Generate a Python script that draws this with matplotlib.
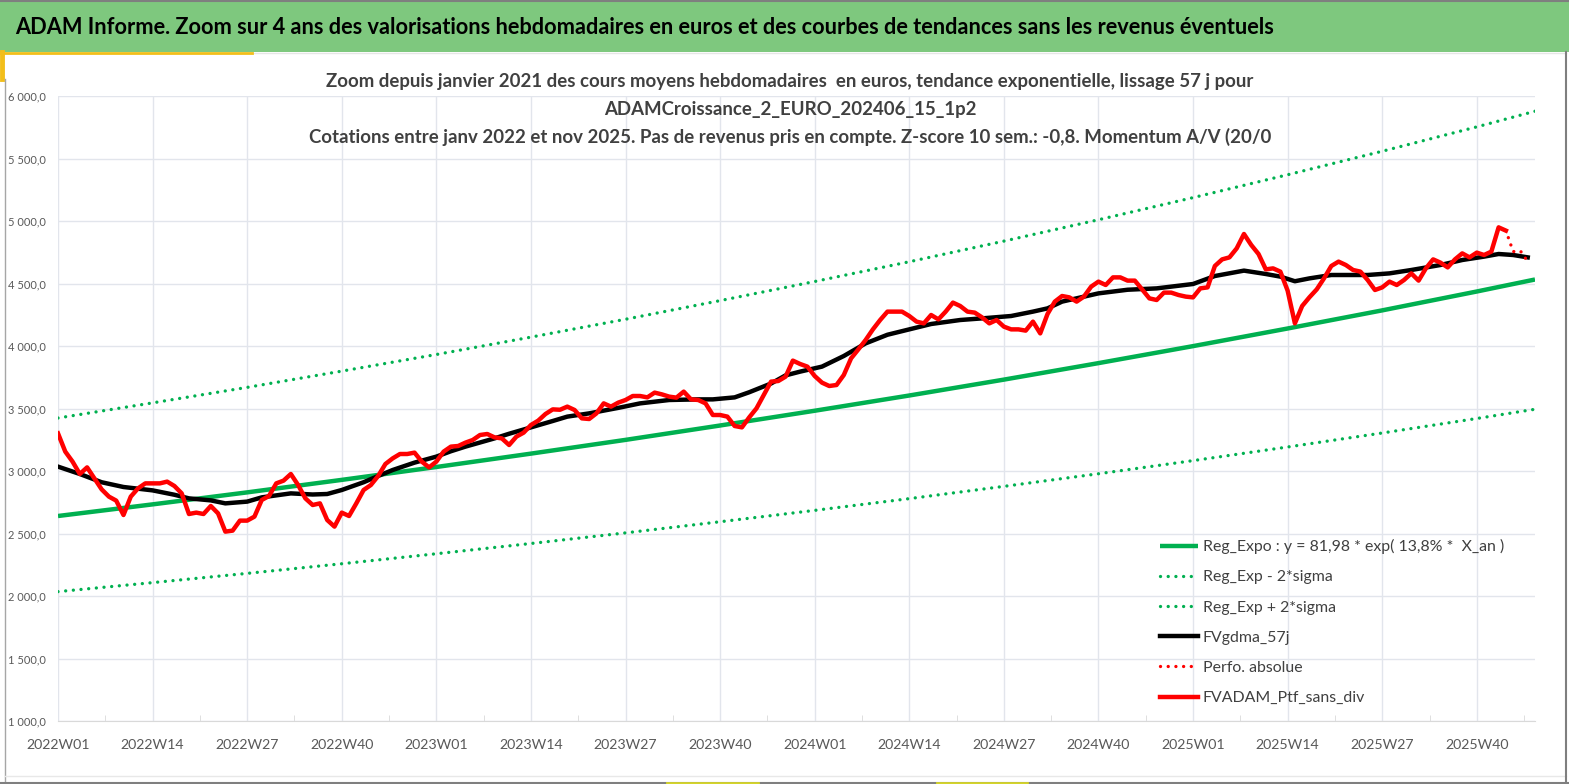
import numpy as np
import matplotlib
matplotlib.use("Agg")
import matplotlib.pyplot as plt
from matplotlib.patches import Rectangle
from matplotlib.lines import Line2D
from matplotlib.ticker import FuncFormatter, MultipleLocator

plt.rcParams['font.family'] = ['Lato', 'DejaVu Sans']

# ---- data ----
tick_weeks = [0, 13, 26, 39, 52, 65, 78, 91, 104, 117, 130, 143, 156, 169, 182, 195]
tick_labels = ['2022W01', '2022W14', '2022W27', '2022W40', '2023W01', '2023W14',
               '2023W27', '2023W40', '2024W01', '2024W14', '2024W27', '2024W40',
               '2025W01', '2025W14', '2025W27', '2025W40']

# regression line and bands, read at each tick + last week
reg_weeks = [0, 13, 26, 39, 52, 65, 78, 91, 104, 117, 130, 143, 156, 169, 182, 195, 203]
reg_expo = [2640, 2733, 2829, 2929, 3032, 3139, 3249, 3364, 3482, 3604, 3731, 3863,
            3999, 4140, 4285, 4436, 4532]
reg_plus = [3424, 3545, 3669, 3799, 3932, 4071, 4214, 4363, 4516, 4674, 4839, 5010,
            5187, 5370, 5558, 5753, 5878]
reg_minus = [2035, 2107, 2181, 2258, 2338, 2420, 2505, 2594, 2685, 2779, 2877, 2978,
             3083, 3192, 3304, 3420, 3494]

# moving average FVgdma_57j
ma_weeks = [0, 3, 6, 9, 13, 16, 18, 21, 23, 26, 28, 32, 35, 37, 39, 42, 44, 46, 49,
            52, 54, 56, 60, 62, 65, 68, 70, 73, 77, 80, 84, 88, 90, 93, 95, 98, 100,
            102, 105, 108, 111, 114, 117, 120, 124, 127, 131, 134, 136, 138, 143, 147,
            151, 156, 159, 163, 166, 168, 170, 172, 175, 180, 183, 186, 190, 193, 196,
            198, 200, 202]
ma_57j = [3035, 2976, 2910, 2872, 2845, 2810, 2781, 2765, 2741, 2755, 2789, 2821, 2812,
          2816, 2848, 2910, 2960, 3008, 3067, 3115, 3158, 3195, 3261, 3298, 3349, 3400,
          3435, 3461, 3505, 3541, 3568, 3573, 3573, 3589, 3630, 3700, 3765, 3795, 3835,
          3920, 4021, 4090, 4133, 4176, 4208, 4221, 4240, 4275, 4301, 4355, 4421, 4450,
          4461, 4496, 4560, 4603, 4576, 4555, 4518, 4541, 4568, 4568, 4581, 4608, 4648,
          4688, 4715, 4736, 4728, 4709]

# weekly portfolio value, weeks 0..199
ptf_sans_div = [
    3301, 3155, 3075, 2976, 3029, 2941, 2853, 2795, 2763, 2648,
    2795, 2861, 2901, 2901, 2901, 2915, 2880, 2821, 2656, 2667,
    2656, 2720, 2661, 2515, 2523, 2603, 2603, 2635, 2768, 2800,
    2901, 2923, 2976, 2888, 2781, 2728, 2741, 2608, 2555, 2667,
    2640, 2741, 2848, 2888, 2960, 3056, 3101, 3136, 3136, 3147,
    3075, 3029, 3075, 3155, 3195, 3200, 3227, 3248, 3288, 3296,
    3269, 3261, 3208, 3275, 3307, 3368, 3403, 3456, 3493, 3490,
    3515, 3488, 3421, 3416, 3461, 3541, 3515, 3547, 3568, 3600,
    3600, 3589, 3627, 3613, 3595, 3587, 3635, 3573, 3568, 3541,
    3448, 3448, 3435, 3360, 3349, 3429, 3501, 3608, 3715, 3720,
    3755, 3883, 3856, 3835, 3760, 3707, 3680, 3688, 3768, 3901,
    3973, 4048, 4133, 4208, 4275, 4275, 4275, 4240, 4195, 4181,
    4248, 4213, 4275, 4347, 4320, 4275, 4267, 4229, 4181, 4208,
    4155, 4133, 4133, 4123, 4195, 4101, 4256, 4355, 4400, 4389,
    4355, 4395, 4475, 4515, 4488, 4549, 4549, 4523, 4523, 4453,
    4381, 4368, 4427, 4427, 4408, 4395, 4389, 4461, 4469, 4640,
    4693, 4709, 4781, 4896, 4808, 4736, 4613, 4621, 4595, 4443,
    4181, 4320, 4390, 4453, 4541, 4640, 4675, 4648, 4608, 4595,
    4528, 4448, 4469, 4515, 4488, 4528, 4581, 4523, 4621, 4693,
    4667, 4629, 4693, 4741, 4709, 4747, 4728, 4755, 4949, 4923,
]
# absolute performance continues a few weeks after the last portfolio point
perfo_weeks = [198, 199, 200, 201, 202]
perfo_abs = [4949, 4923, 4755, 4760, 4675]

GREEN = '#00b050'
RED = '#ff0000'
GREY_TXT = '#595959'

W, H = 1569, 784
fig = plt.figure(figsize=(W / 100, H / 100), dpi=100)


def fx(px):
    return px / W


def fy(py):
    return 1 - py / H


# title bar
fig.add_artist(Rectangle((0, fy(52)), 1, 52 / H, transform=fig.transFigure,
                         facecolor='#7ec87e', edgecolor='none', zorder=0))
fig.text(fx(15), fy(27), 'ADAM Informe. Zoom sur 4 ans des valorisations hebdomadaires '
         'en euros et des courbes de tendances sans les revenus éventuels',
         fontsize=15.7, fontweight='bold', color='black', va='center', ha='left')

# frame and accents
fig.add_artist(Line2D([fx(252), fx(1566)], [fy(53), fy(53)], transform=fig.transFigure,
                      color='#e6e6e6', lw=1))
fig.add_artist(Line2D([0, fx(252)], [fy(53), fy(53)], transform=fig.transFigure,
                      color='#f2be1a', lw=2))
fig.add_artist(Line2D([fx(2), fx(2)], [fy(52), fy(79)], transform=fig.transFigure,
                      color='#f2be1a', lw=3.5))
fig.add_artist(Line2D([fx(5), fx(5)], [fy(79), fy(782)], transform=fig.transFigure,
                      color='#a6a6a6', lw=1))
fig.add_artist(Line2D([fx(5), fx(1566)], [fy(776), fy(776)], transform=fig.transFigure,
                      color='#e8e8e8', lw=1))
fig.add_artist(Line2D([0, 1], [fy(782.5), fy(782.5)], transform=fig.transFigure,
                      color='#7f7f7f', lw=1.5))
fig.add_artist(Line2D([fx(1566), fx(1566)], [fy(52), fy(783)], transform=fig.transFigure,
                      color='#7f7f7f', lw=1.5))
fig.add_artist(Line2D([0, 1], [fy(0.5), fy(0.5)], transform=fig.transFigure,
                      color='#7f7f7f', lw=1.5))
for x0, x1 in [(667, 758), (937, 1027)]:
    fig.add_artist(Line2D([fx(x0), fx(x1)], [fy(783), fy(783)], transform=fig.transFigure,
                          color='#d4d42a', lw=2))

# chart subtitle
sub = ['Zoom depuis janvier 2021 des cours moyens hebdomadaires  en euros, tendance '
       'exponentielle, lissage 57 j pour',
       'ADAMCroissance_2_EURO_202406_15_1p2',
       'Cotations entre janv 2022 et nov 2025. Pas de revenus pris en compte. '
       'Z-score 10 sem.: -0,8. Momentum A/V (20/0']
for i, line in enumerate(sub):
    fig.text(fx(790), fy(82 + i * 27.5), line, fontsize=13.4, fontweight='bold',
             color='#404040', ha='center', va='center')

ax = fig.add_axes([fx(58), fy(721), fx(1535) - fx(58), fy(96) - fy(721)])
ax.set_facecolor('none')

dots = (0, (0.01, 2.3))
ax.plot(reg_weeks, reg_minus, color=GREEN, lw=2.4, ls=dots, dash_capstyle='round',
        label='Reg_Exp - 2*sigma', zorder=2)
ax.plot(reg_weeks, reg_plus, color=GREEN, lw=2.4, ls=dots, dash_capstyle='round',
        label='Reg_Exp + 2*sigma', zorder=2)
ax.plot(reg_weeks, reg_expo, color=GREEN, lw=3.2, solid_capstyle='butt',
        label='Reg_Expo : y = 81,98 * exp( 13,8% *  X_an )', zorder=3)
ax.plot(ma_weeks, ma_57j, color='black', lw=3.2, label='FVgdma_57j', zorder=4)
ax.plot(perfo_weeks, perfo_abs, color=RED, lw=2.4, ls=dots, dash_capstyle='round',
        label='Perfo. absolue', zorder=5)
ax.plot(np.arange(len(ptf_sans_div)), ptf_sans_div, color=RED, lw=3.2,
        solid_joinstyle='round', label='FVADAM_Ptf_sans_div', zorder=6)

ax.set_xlim(0, 203)
ax.set_ylim(1000, 6000)
ax.yaxis.set_major_locator(MultipleLocator(500))
ax.yaxis.set_major_formatter(FuncFormatter(
    lambda v, p: f'{int(v) // 1000} {int(v) % 1000:03d},0'))
ax.set_xticks(tick_weeks)
ax.set_xticklabels(tick_labels)
ax.set_xticks([w + 6.5 for w in tick_weeks], minor=True)
ax.grid(True, which='major', color='#e2e5ec', lw=1, zorder=0)
for s in ['top', 'right', 'left']:
    ax.spines[s].set_visible(False)
ax.spines['bottom'].set_color('#d9d9d9')
ax.tick_params(axis='y', length=0, pad=9, labelsize=8, labelcolor=GREY_TXT)
ax.tick_params(axis='x', which='major', length=0, pad=13, labelsize=10.2,
               labelcolor=GREY_TXT)
ax.tick_params(axis='x', which='minor', length=4, direction='in', color='#d9d9d9')

h, l = ax.get_legend_handles_labels()
order = [2, 0, 1, 3, 4, 5]
leg = ax.legend([h[i] for i in order], [l[i] for i in order], loc='upper left',
                bbox_to_anchor=(fx(1160), fy(539)), bbox_transform=fig.transFigure,
                frameon=False, fontsize=11.4, handlelength=2.4, handletextpad=0.3,
                labelspacing=1.02, borderpad=0, borderaxespad=0)
for t in leg.get_texts():
    t.set_color('#404040')

fig.savefig('out.png', dpi=100)
